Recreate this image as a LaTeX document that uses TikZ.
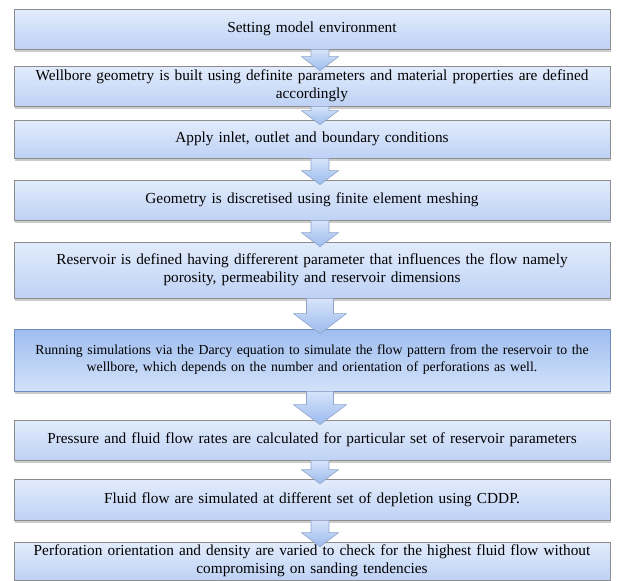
\documentclass[tikz,border=0pt]{standalone}
\usepackage{fontspec}
\setmainfont{Liberation Serif}
\usetikzlibrary{calc,shadows}

\definecolor{boxtop}{HTML}{E2ECFC}
\definecolor{boxbot}{HTML}{BED2F5}
\definecolor{boxline}{HTML}{8C8C8C}
\definecolor{keytop}{HTML}{9EBDEF}
\definecolor{keybot}{HTML}{D3E2FA}
\definecolor{keyline}{HTML}{6F8DC2}
\definecolor{arrtop}{HTML}{D6E4FA}
\definecolor{arrbot}{HTML}{9CBBEE}
\definecolor{arrline}{HTML}{8FA3C6}

\tikzset{
  stepbox/.style={draw=boxline, line width=0.7pt, top color=boxtop, bottom color=boxbot,
    minimum width=596pt, inner sep=0pt, text width=590pt, align=center,
    font=\fontsize{15.3}{17.5}\selectfont,
    drop shadow={shadow xshift=1pt, shadow yshift=-2.5pt, opacity=0.4, fill=black!50}},
  keybox/.style={stepbox, draw=keyline, top color=keytop, bottom color=keybot,
    font=\fontsize{13.8}{17}\selectfont},
  arrowfill/.style={draw=arrline, line width=0.6pt, top color=arrtop, bottom color=arrbot}
}

% block arrow: upper box, lower box, half shaft, half head, head height
\newcommand{\flowarrow}[5]{%
  \path[arrowfill] let \p1=(#1.south), \p2=(#2.north) in
    (320pt-#3pt,\y1) -- (320pt+#3pt,\y1) -- (320pt+#3pt,\y2-5pt+#5pt)
    -- (320pt+#4pt,\y2-5pt+#5pt) -- (320pt,\y2-5pt) -- (320pt-#4pt,\y2-5pt+#5pt)
    -- (320pt-#3pt,\y2-5pt+#5pt) -- cycle;}

\begin{document}
\begin{tikzpicture}[x=1pt,y=1pt]
    \useasboundingbox (0,0) rectangle (624,-581);

    % Steps
    \node[stepbox, minimum height=40pt] (setup) at (312,-29) {Setting model environment};
    \node[stepbox, minimum height=40pt] (geom) at (312,-86) {Wellbore geometry is built using definite parameters and material properties are defined\\accordingly};
    \node[stepbox, minimum height=38pt] (bound) at (312,-139) {Apply inlet, outlet and boundary conditions};
    \node[stepbox, minimum height=40pt] (mesh) at (312,-200) {Geometry is discretised using finite element meshing};
    \node[stepbox, minimum height=56pt] (resv) at (312,-270) {Reservoir is defined having differerent parameter that influences the flow namely\\porosity, permeability and reservoir dimensions};
    \node[keybox, minimum height=62pt] (darcy) at (312,-360) {Running simulations via the Darcy equation to simulate the flow pattern from the reservoir to the\\wellbore, which depends on the number and orientation of perforations as well.};
    \node[stepbox, minimum height=40pt] (press) at (312,-440) {Pressure and fluid flow rates are calculated for particular set of reservoir parameters};
    \node[stepbox, minimum height=41pt] (depl) at (312,-499.5) {Fluid flow are simulated at different set of depletion using CDDP.};
    \node[stepbox, minimum height=38pt] (perf) at (312,-561) {Perforation orientation and density are varied to check for the highest fluid flow without\\compromising on sanding tendencies};

    % Arrows
    \flowarrow{setup}{geom}{9}{18.5}{14}
    \flowarrow{geom}{bound}{9}{18.5}{14}
    \flowarrow{bound}{mesh}{9}{18.5}{14}
    \flowarrow{mesh}{resv}{9}{18.5}{14}
    \flowarrow{resv}{darcy}{13.5}{26.5}{20}
    \flowarrow{darcy}{press}{13.5}{26.5}{20}
    \flowarrow{press}{depl}{9}{18.5}{14}
    \flowarrow{depl}{perf}{9}{18.5}{14}
\end{tikzpicture}
\end{document}
